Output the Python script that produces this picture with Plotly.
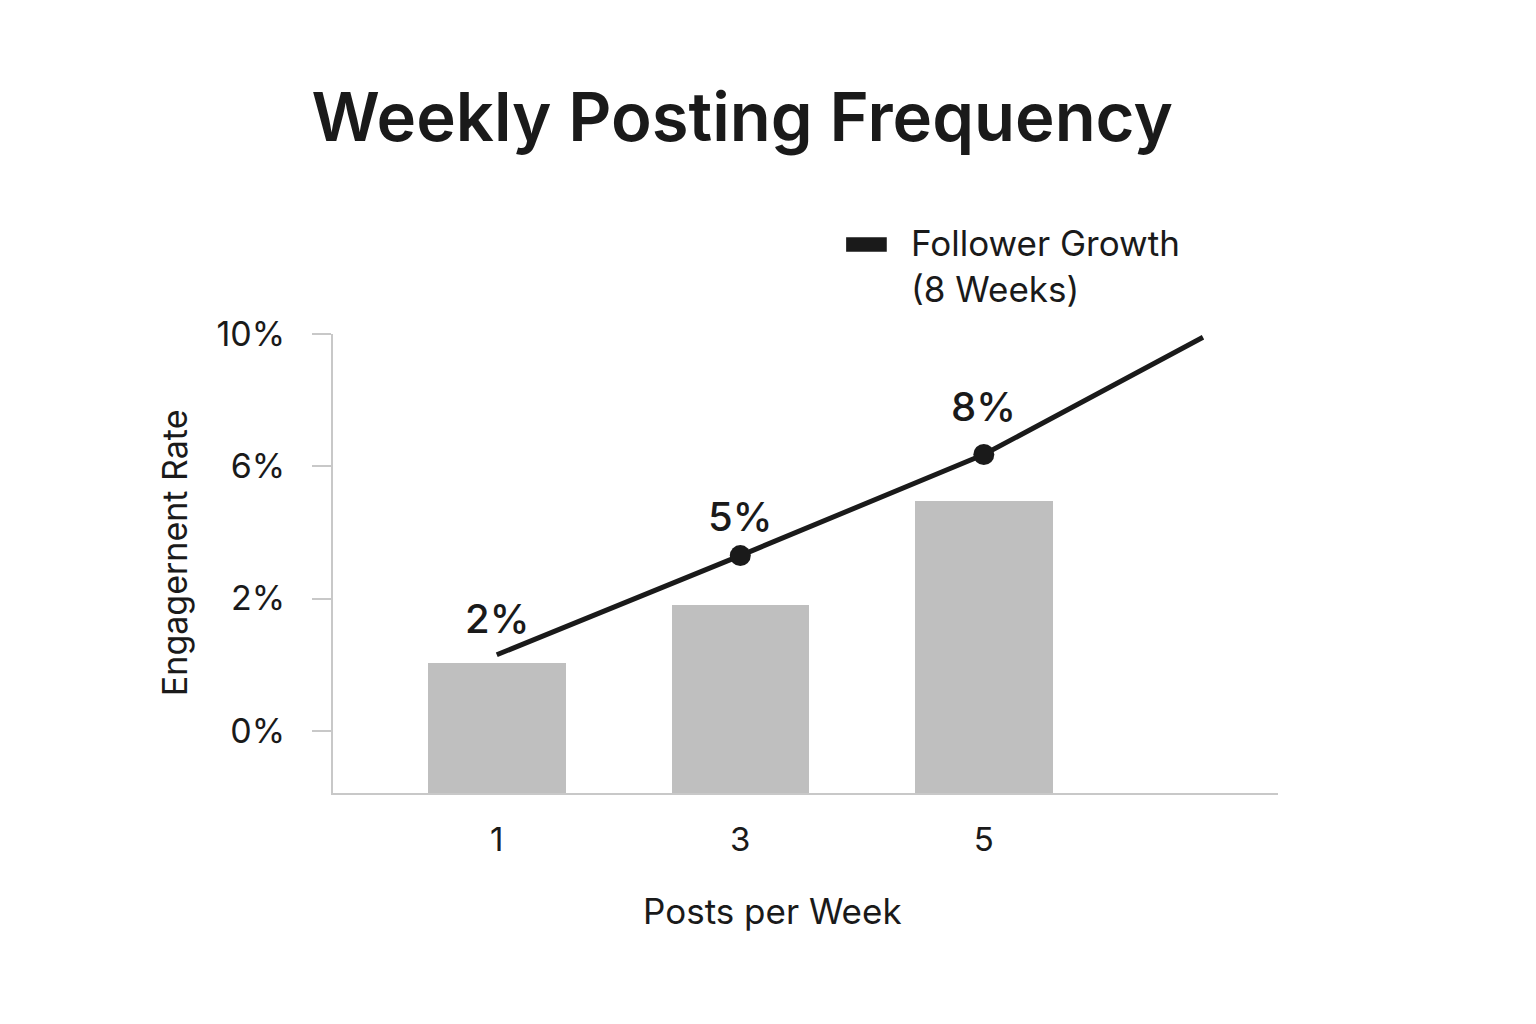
import plotly.graph_objects as go

# posts per week (x) and the values
posts = [1, 3, 5]
# bar heights, in the chart's own (evenly spaced) y units
engagement_bars = [0.51, 0.95, 1.74]

# follower growth line, ends past the last bar
growth_x = [1, 3, 5, 6.8]
growth_y = [0.575, 1.325, 2.089, 2.975]
growth_labels = ["2%", "5%", "8%"]
label_shift = [10, 13, 22]

# y axis ticks are evenly spaced but labelled 0, 2, 6, 10
ytick_vals = [0, 1, 2, 3]
ytick_text = ["0%", "2%", "6%", "10%"]

y_bottom = -0.47
FONT = "Inter"
DARK = "#1a1a1a"

fig = go.Figure()

fig.add_trace(go.Bar(
    x=posts,
    y=[v - y_bottom for v in engagement_bars],
    base=y_bottom,
    width=1.13,
    marker=dict(color="#bfbfbf", line=dict(width=0)),
    showlegend=False,
    hoverinfo="skip",
))

fig.add_trace(go.Scatter(
    x=growth_x,
    y=growth_y,
    mode="lines+markers",
    line=dict(color=DARK, width=5),
    marker=dict(size=[0, 21, 21, 0], color=DARK, opacity=1,
                line=dict(width=0)),
    name="Follower Growth (8 Weeks)",
    showlegend=False,
))

# the % labels above the line points
for x, y, t, s in zip(growth_x, growth_y, growth_labels, label_shift):
    fig.add_annotation(x=x, y=y, text=t, showarrow=False, yanchor="bottom",
                       yshift=s, font=dict(family=FONT, size=40, weight=500, color=DARK))

# legend drawn by hand so the swatch is a thick bar
fig.add_shape(type="rect", xref="paper", yref="paper",
              x0=0.543, x1=0.586, y0=1.179, y1=1.211,
              fillcolor=DARK, line=dict(width=0))
fig.add_annotation(xref="paper", yref="paper", x=0.6095, y=1.148,
                   xanchor="left", yanchor="middle", align="left",
                   text="Follower Growth<br>(8 Weeks)", showarrow=False,
                   font=dict(family=FONT, size=35, color=DARK))

# axis titles
fig.add_annotation(xref="paper", yref="paper", x=-0.167, y=0.523,
                   xanchor="center", yanchor="middle",
                   text="Engagernent Rate", textangle=-90, showarrow=False,
                   font=dict(family=FONT, size=34, color=DARK))
fig.add_annotation(xref="paper", yref="paper", x=0.4656, y=-0.257,
                   xanchor="center", yanchor="middle",
                   text="Posts per Week", showarrow=False,
                   font=dict(family=FONT, size=35, color=DARK))

fig.update_layout(
    width=1528, height=1016,
    margin=dict(l=325, r=258, t=326, b=231),
    plot_bgcolor="white", paper_bgcolor="white",
    font=dict(family=FONT, color=DARK),
    title=dict(text="Weekly Posting Frequency", x=0.4805, xanchor="center",
               y=0.8917, yanchor="middle", yref="container",
               font=dict(family=FONT, size=67, weight=600, color=DARK)),
    xaxis=dict(range=[-0.345, 7.416], tickvals=posts, ticktext=[str(p) for p in posts],
               showgrid=False, zeroline=False, showline=True, linecolor="#c8c8c8",
               linewidth=2, ticks="", ticklabelstandoff=16,
               tickfont=dict(family=FONT, size=33, color=DARK)),
    yaxis=dict(range=[y_bottom, 3.0], tickvals=ytick_vals, ticktext=ytick_text,
               showgrid=False, zeroline=False, showline=True, linecolor="#c8c8c8",
               linewidth=2, ticks="outside", ticklen=19, tickcolor="#c8c8c8",
               tickwidth=2, ticklabelstandoff=20,
               tickfont=dict(family=FONT, size=34, color=DARK)),
    bargap=0,
)

fig.write_html("out.html")
